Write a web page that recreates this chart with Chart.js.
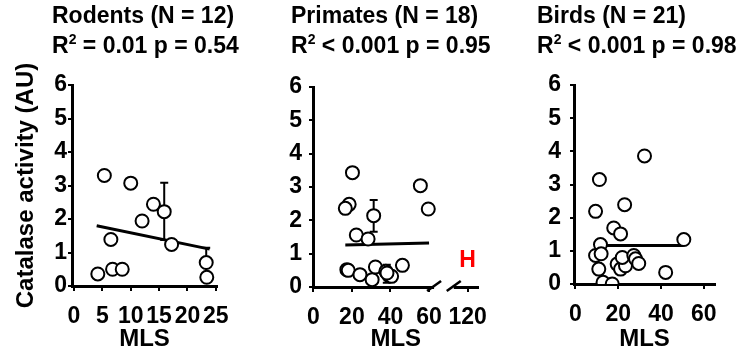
<!DOCTYPE html>
<html>
<head>
<meta charset="utf-8">
<script src="https://cdn.jsdelivr.net/npm/chart.js@4.4.1/dist/chart.umd.min.js"></script>
<style>
  body { margin: 0; background: #fff; }
  #wrap { position: relative; width: 748px; height: 356px; overflow: hidden; font-family: 'Liberation Sans', Arial, Helvetica, sans-serif; }
  .panel { position: absolute; top: 0; }
  .title { position: absolute; top: 0; font-weight: bold; font-size: 23px; line-height: 30px; white-space: nowrap; color: #000; }
  .title sup { font-size: 14px; line-height: 0; vertical-align: 9px; }
</style>
</head>
<body>
<div id="wrap">
  <div class="panel" style="left:0px"><canvas id="rodentsChart" width="250" height="356"></canvas></div>
  <div class="panel" style="left:250px"><canvas id="primatesChart" width="250" height="356"></canvas></div>
  <div class="panel" style="left:500px"><canvas id="birdsChart" width="248" height="356"></canvas></div>
  <div class="title" style="left:52px">Rodents (N = 12)<br>R<sup>2</sup> = 0.01 p = 0.54</div>
  <div class="title" style="left:291px">Primates (N = 18)<br>R<sup>2</sup> &lt; 0.001 p = 0.95</div>
  <div class="title" style="left:537px">Birds (N = 21)<br>R<sup>2</sup> &lt; 0.001 p = 0.98</div>
</div>
<script>
// Rodents
const rodentsMLS = [4.2, 5.35, 6.5, 6.8, 8.5, 10.0, 12.0, 14.0, 15.9, 17.2, 23.3, 23.4];
const rodentsCatalase = [0.36, 3.3, 1.39, 0.5, 0.5, 3.07, 1.94, 2.44, 2.22, 1.24, 0.7, 0.26];
const rodentsFitMLS = [4.0, 23.9];
const rodentsFitCatalase = [1.80, 1.10];
const rodentsErrMLS = [15.9, 23.3];
const rodentsErrLow = [1.37, 0.26];
const rodentsErrHigh = [3.08, 1.14];
const rodentsTicks = [0, 5, 10, 15, 20, 25];

// Primates (120 is drawn after the axis break, at position 80)
const primatesMLS = [20.3, 18.6, 16.6, 31.3, 22.3, 28.4, 55.5, 59.6, 17.4, 18.1, 24.2, 30.5, 32.2, 37.6, 39.3, 40.6, 46.2, 38.2];
const primatesCatalase = [3.43, 2.48, 2.36, 2.14, 1.56, 1.44, 3.04, 2.34, 0.52, 0.5, 0.37, 0.22, 0.6, 0.47, 0.34, 0.32, 0.65, 0.42];
const primatesFitMLS = [16.6, 60];
const primatesFitCatalase = [1.26, 1.32];
const primatesErrMLS = [31.3, 38.1];
const primatesErrLow = [1.66, 0.13];
const primatesErrHigh = [2.61, 0.67];
const primatesTicks = [0, 20, 40, 60, 80];
const primatesTickLabels = ['0', '20', '40', '60', '120'];
const primatesBreak = [62.6, 72.8];
const humanMLS = 80;
const humanCatalase = 0.8;

// Birds
const birdsMLS = [32.3, 11.2, 9.4, 23.0, 17.9, 21.1, 11.7, 50.7, 9.4, 12.0, 10.9, 12.9, 17.2, 19.5, 21.1, 23.4, 21.9, 27.3, 28.1, 29.6, 42.2];
const birdsCatalase = [3.86, 3.15, 2.19, 2.39, 1.69, 1.51, 1.19, 1.34, 0.86, 0.91, 0.45, 0.05, 0.0, 0.6, 0.45, 0.55, 0.8, 0.86, 0.76, 0.62, 0.35];
const birdsFitMLS = [14.5, 50.4];
const birdsFitCatalase = [1.16, 1.16];
const birdsTicks = [0, 20, 40, 60];

const yTicks = [0, 1, 2, 3, 4, 5, 6];

const FONT = "'Liberation Sans', Arial, Helvetica, sans-serif";

// error bars drawn under the circles
const errorBarPlugin = {
    id: 'errorBars',
    beforeDatasetsDraw(chart, args, opts) {
        if (!opts.x) return;
        const ctx = chart.ctx;
        const xs = chart.scales.x, ys = chart.scales.y;
        ctx.save();
        ctx.strokeStyle = '#000';
        ctx.lineWidth = 2;
        opts.x.forEach((v, i) => {
            const px = xs.getPixelForValue(v);
            const lo = ys.getPixelForValue(opts.low[i]);
            const hi = ys.getPixelForValue(opts.high[i]);
            ctx.beginPath();
            ctx.moveTo(px, lo); ctx.lineTo(px, hi);
            ctx.moveTo(px - 4, hi); ctx.lineTo(px + 4, hi);
            ctx.moveTo(px - 4, lo); ctx.lineTo(px + 4, lo);
            ctx.stroke();
        });
        ctx.restore();
    }
};

// axis break and "H" label for the primate panel
const breakPlugin = {
    id: 'axisBreak',
    afterDraw(chart, args, opts) {
        if (!opts.range) return;
        const ctx = chart.ctx;
        const xs = chart.scales.x, ys = chart.scales.y;
        const y0 = chart.chartArea.bottom;
        const a = xs.getPixelForValue(opts.range[0]);
        const b = xs.getPixelForValue(opts.range[1]);
        ctx.save();
        ctx.fillStyle = '#fff';
        ctx.fillRect(a, y0 - 3, b - a, 6);
        ctx.strokeStyle = '#000';
        ctx.lineWidth = 2.5;
        [a, b].forEach(px => {
            ctx.beginPath();
            ctx.moveTo(px - 7, y0 + 4);
            ctx.lineTo(px + 7, y0 - 6);
            ctx.stroke();
        });
        ctx.fillStyle = '#f00';
        ctx.font = 'bold 23px ' + FONT;
        ctx.textAlign = 'center';
        ctx.textBaseline = 'middle';
        ctx.fillText(opts.label, xs.getPixelForValue(opts.labelX), ys.getPixelForValue(opts.labelY));
        ctx.restore();
    }
};

function makeChart(canvasId, cfg) {
    const ctx = document.getElementById(canvasId).getContext('2d');
    const tickFont = { family: FONT, size: 23, weight: 'bold' };
    const titleFont = { family: FONT, size: 24, weight: 'bold' };
    return new Chart(ctx, {
        type: 'scatter',
        data: {
            datasets: [
                {
                    type: 'line',
                    data: cfg.fitX.map((x, i) => ({ x: x, y: cfg.fitY[i] })),
                    borderColor: '#000',
                    borderWidth: 3,
                    pointRadius: 0,
                    fill: false,
                    order: 2
                },
                {
                    data: cfg.x.map((x, i) => ({ x: x, y: cfg.y[i] })),
                    backgroundColor: '#fff',
                    borderColor: '#000',
                    borderWidth: 2,
                    pointRadius: 6.5,
                    pointHoverRadius: 6.5,
                    order: 1
                }
            ]
        },
        options: {
            responsive: false,
            animation: false,
            events: [],
            layout: { padding: cfg.padding },
            plugins: {
                legend: { display: false },
                tooltip: { enabled: false },
                errorBars: cfg.errors || {},
                axisBreak: cfg.axisBreak || {}
            },
            scales: {
                x: {
                    type: 'linear',
                    min: cfg.xMin,
                    max: cfg.xMax,
                    afterBuildTicks: s => { s.ticks = cfg.xTicks.map(v => ({ value: v })); },
                    afterFit: s => { s.height = cfg.xAxisHeight; },
                    ticks: {
                        autoSkip: false, maxRotation: 0, minRotation: 0,
                        padding: 12, color: '#000', font: tickFont,
                        callback: (v, i) => cfg.xLabels ? cfg.xLabels[i] : String(v)
                    },
                    grid: { display: true, drawOnChartArea: false, drawTicks: true, tickLength: 5, color: '#000', lineWidth: 2 },
                    border: { display: true, color: '#000', width: 3 },
                    title: { display: true, text: 'MLS', color: '#000', font: titleFont, padding: { top: 0, bottom: 2 } }
                },
                y: {
                    min: 0,
                    max: 6,
                    afterBuildTicks: s => { s.ticks = yTicks.map(v => ({ value: v })); },
                    afterFit: s => { s.width = cfg.yAxisWidth; },
                    ticks: { padding: cfg.yTickPad, color: '#000', font: tickFont },
                    grid: { display: true, drawOnChartArea: false, drawTicks: true, tickLength: 4, color: '#000', lineWidth: 2 },
                    border: { display: true, color: '#000', width: 3 },
                    title: cfg.yTitle
                        ? { display: true, text: cfg.yTitle, color: '#000', font: titleFont, padding: { top: 12, bottom: 0 } }
                        : { display: false }
                }
            }
        },
        plugins: [errorBarPlugin, breakPlugin]
    });
}

makeChart('rodentsChart', {
    x: rodentsMLS, y: rodentsCatalase,
    fitX: rodentsFitMLS, fitY: rodentsFitCatalase,
    errors: { x: rodentsErrMLS, low: rodentsErrLow, high: rodentsErrHigh },
    xMin: -0.35, xMax: 25.2, xTicks: rodentsTicks,
    padding: { left: 0, right: 33, top: 85, bottom: 0 },
    yAxisWidth: 72, xAxisHeight: 70, yTickPad: 1,
    yTitle: 'Catalase activity (AU)'
});

makeChart('primatesChart', {
    x: primatesMLS, y: primatesCatalase,
    fitX: primatesFitMLS, fitY: primatesFitCatalase,
    errors: { x: primatesErrMLS, low: primatesErrLow, high: primatesErrHigh },
    axisBreak: { range: primatesBreak, label: 'H', labelX: humanMLS, labelY: humanCatalase },
    xMin: -0.15, xMax: 85.6, xTicks: primatesTicks, xLabels: primatesTickLabels,
    padding: { left: 0, right: 18, top: 87, bottom: 0 },
    yAxisWidth: 63, xAxisHeight: 69, yTickPad: 7
});

makeChart('birdsChart', {
    x: birdsMLS, y: birdsCatalase,
    fitX: birdsFitMLS, fitY: birdsFitCatalase,
    xMin: -0.7, xMax: 65.3, xTicks: birdsTicks,
    padding: { left: 0, right: 33, top: 85, bottom: 0 },
    yAxisWidth: 74, xAxisHeight: 72, yTickPad: 9
});
</script>
</body>
</html>
